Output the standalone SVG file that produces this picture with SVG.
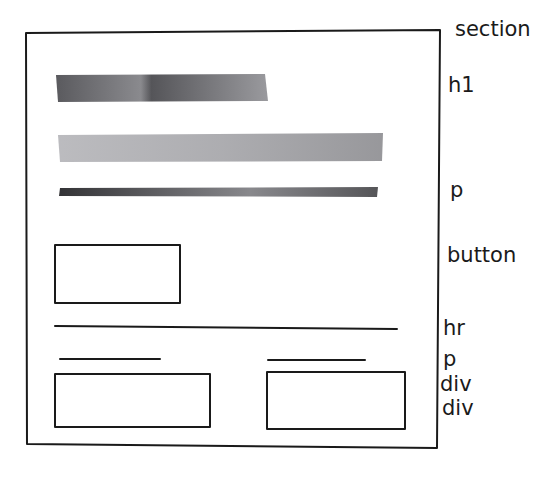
<svg xmlns="http://www.w3.org/2000/svg" width="550" height="481" viewBox="0 0 550 481">
<defs>
<linearGradient id="gH1" x1="0" y1="0" x2="1" y2="0">
<stop offset="0" stop-color="#5a5a5e"/><stop offset="0.4" stop-color="#8a8a8e"/><stop offset="0.45" stop-color="#555559"/><stop offset="1" stop-color="#9a9a9e"/>
</linearGradient>
<linearGradient id="gP1" x1="0" y1="0" x2="1" y2="0">
<stop offset="0" stop-color="#b4b4b8"/><stop offset="0.5" stop-color="#a4a4a8"/><stop offset="1" stop-color="#8c8c90"/>
</linearGradient>
<linearGradient id="gP2" x1="0" y1="0" x2="1" y2="0">
<stop offset="0" stop-color="#333336"/><stop offset="0.6" stop-color="#88888c"/><stop offset="1" stop-color="#555558"/>
</linearGradient>
</defs>
<style>
.ln{fill:none;stroke:#1a1a1a;stroke-width:2;stroke-linecap:round;stroke-linejoin:round}
.lbl{font-family:"DejaVu Sans","Liberation Sans",sans-serif;font-size:21px;fill:#1a1a1a}
</style>
<rect width="550" height="481" fill="#ffffff"/>
<g id="section">
<path class="ln" d="M26,33 L440,30 L437,448 L27,444 Z"/>
<text class="lbl" x="455" y="36">section</text>
</g>
<g id="h1">
<path d="M56,75 L265,74 L268,101 L58,102 Z" fill="url(#gH1)"/>
<text class="lbl" x="448" y="92">h1</text>
</g>
<g id="p">
<path d="M58,135 L383,133 L382,161 L60,162 Z" fill="url(#gP1)" opacity="0.9"/>
<path d="M60,188 L378,187 L377,197 L59,196 Z" fill="url(#gP2)"/>
<text class="lbl" x="450" y="197">p</text>
</g>
<g id="button">
<rect class="ln" x="55" y="245" width="125" height="58"/>
<text class="lbl" x="447" y="262">button</text>
</g>
<g id="hr">
<path class="ln" d="M55,326 L397,329"/>
<text class="lbl" x="443" y="335">hr</text>
</g>
<g id="p2">
<path class="ln" d="M60,359 L160,359"/>
<path class="ln" d="M268,360 L365,360"/>
<text class="lbl" x="443" y="366">p</text>
</g>
<g id="div1">
<rect class="ln" x="55" y="374" width="155" height="53"/>
<text class="lbl" x="440" y="391">div</text>
</g>
<g id="div2">
<rect class="ln" x="267" y="372" width="138" height="57"/>
<text class="lbl" x="442" y="415">div</text>
</g>
</svg>
